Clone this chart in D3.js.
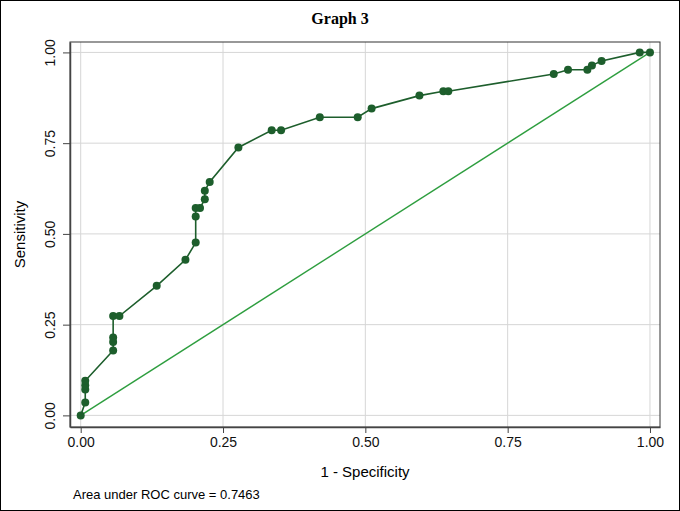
<!DOCTYPE html>
<html>
<head>
<meta charset="utf-8">
<script src="https://cdn.jsdelivr.net/npm/d3@7"></script>
<style>
  body { margin: 0; background: #fff; }
  svg { display: block; }
</style>
</head>
<body>
<div id="chart"></div>
<script>
// ROC points (1 - specificity, sensitivity)
var fpr = [0, 0.008, 0.008, 0.008, 0.008, 0.057, 0.057, 0.057, 0.057, 0.068,
  0.1335, 0.184, 0.202, 0.202, 0.202, 0.2096, 0.218, 0.218, 0.2266, 0.277,
  0.3355, 0.352, 0.42, 0.4866, 0.511, 0.595, 0.637, 0.6457, 0.831, 0.856,
  0.890, 0.898, 0.915, 0.982, 1];
var sens = [0, 0.0357, 0.0714, 0.0833, 0.0952, 0.1786, 0.2024, 0.2143, 0.2738, 0.2738,
  0.3571, 0.4286, 0.4762, 0.5476, 0.5714, 0.5714, 0.5952, 0.619, 0.6429, 0.7381,
  0.7857, 0.7857, 0.8214, 0.8214, 0.8452, 0.881, 0.8929, 0.8929, 0.9405, 0.9524,
  0.9524, 0.9643, 0.9762, 1, 1];
var tickVals = [0, 0.25, 0.5, 0.75, 1];
var aucText = "Area under ROC curve = 0.7463";

var width = 680, height = 511;
var box = { left: 70, right: 660, top: 42, bottom: 427 };

var svg = d3.select('#chart').append('svg')
	.attr('width', width)
	.attr('height', height);

//outer frame
svg.append('rect')
	.attr('x', 0.5).attr('y', 0.5)
	.attr('width', width - 1).attr('height', height - 1)
	.style('fill', 'white')
	.style('stroke', '#000')
	.style('stroke-width', 1);

var x = d3.scaleLinear().domain([-0.0188, 1.0176]).range([box.left, box.right]);
var y = d3.scaleLinear().domain([-0.032, 1.0287]).range([box.bottom, box.top]);

//grid
svg.append('g').selectAll('line.vg')
	.data(tickVals).enter().append('line')
	.attr('x1', function(d) { return x(d); })
	.attr('x2', function(d) { return x(d); })
	.attr('y1', box.top).attr('y2', box.bottom)
	.style('stroke', '#d6d6d6').style('stroke-width', 1);
svg.append('g').selectAll('line.hg')
	.data(tickVals).enter().append('line')
	.attr('y1', function(d) { return y(d); })
	.attr('y2', function(d) { return y(d); })
	.attr('x1', box.left).attr('x2', box.right)
	.style('stroke', '#d6d6d6').style('stroke-width', 1);

//plot box
svg.append('rect')
	.attr('x', box.left).attr('y', box.top)
	.attr('width', box.right - box.left).attr('height', box.bottom - box.top)
	.style('fill', 'none')
	.style('stroke', '#333')
	.style('stroke-width', 1);

//axes
var xAxis = svg.append('g')
	.attr('transform', 'translate(0,' + box.bottom + ')')
	.call(d3.axisBottom(x).tickValues(tickVals).tickFormat(d3.format('.2f')).tickSize(6).tickSizeOuter(0));
var yAxis = svg.append('g')
	.attr('transform', 'translate(' + box.left + ',0)')
	.call(d3.axisLeft(y).tickValues(tickVals).tickFormat(d3.format('.2f')).tickSize(7).tickSizeOuter(0));

[xAxis, yAxis].forEach(function(a) {
	a.select('.domain').style('stroke', '#444').style('stroke-width', 1.5);
	a.selectAll('.tick line').style('stroke', '#444');
	a.selectAll('text')
		.style('font-family', 'Liberation Sans, Arial, sans-serif')
		.style('font-size', '14px')
		.style('fill', '#111');
});
xAxis.selectAll('text').attr('y', 10);
yAxis.selectAll('text')
	.attr('x', 0).attr('dy', 0)
	.attr('text-anchor', 'middle')
	.attr('transform', 'translate(-15,0) rotate(-90)');

//diagonal reference
svg.append('line')
	.attr('x1', x(0)).attr('y1', y(0))
	.attr('x2', x(1)).attr('y2', y(1))
	.style('stroke', '#2e9e3f')
	.style('stroke-width', 1.4);

//ROC curve
var pts = fpr.map(function(d, i) { return [d, sens[i]]; });
svg.append('path')
	.datum(pts)
	.attr('d', d3.line().x(function(d) { return x(d[0]); }).y(function(d) { return y(d[1]); }))
	.style('fill', 'none')
	.style('stroke', '#1d5e2c')
	.style('stroke-width', 1.6);
svg.append('g').selectAll('circle')
	.data(pts).enter().append('circle')
	.attr('cx', function(d) { return x(d[0]); })
	.attr('cy', function(d) { return y(d[1]); })
	.attr('r', 4)
	.style('fill', '#1d5e2c');

//titles
svg.append('text')
	.attr('x', 340).attr('y', 24)
	.attr('text-anchor', 'middle')
	.style('font-family', 'Liberation Serif, Times New Roman, serif')
	.style('font-weight', 'bold')
	.style('font-size', '16px')
	.text('Graph 3');
svg.append('text')
	.attr('x', (box.left + box.right) / 2).attr('y', 477)
	.attr('text-anchor', 'middle')
	.style('font-family', 'Liberation Sans, Arial, sans-serif')
	.style('font-size', '15px')
	.text('1 - Specificity');
svg.append('text')
	.attr('transform', 'translate(25,' + ((box.top + box.bottom) / 2) + ') rotate(-90)')
	.attr('text-anchor', 'middle')
	.style('font-family', 'Liberation Sans, Arial, sans-serif')
	.style('font-size', '15px')
	.text('Sensitivity');
svg.append('text')
	.attr('x', 73).attr('y', 499)
	.style('font-family', 'Liberation Sans, Arial, sans-serif')
	.style('font-size', '13px')
	.text(aucText);
</script>
</body>
</html>
